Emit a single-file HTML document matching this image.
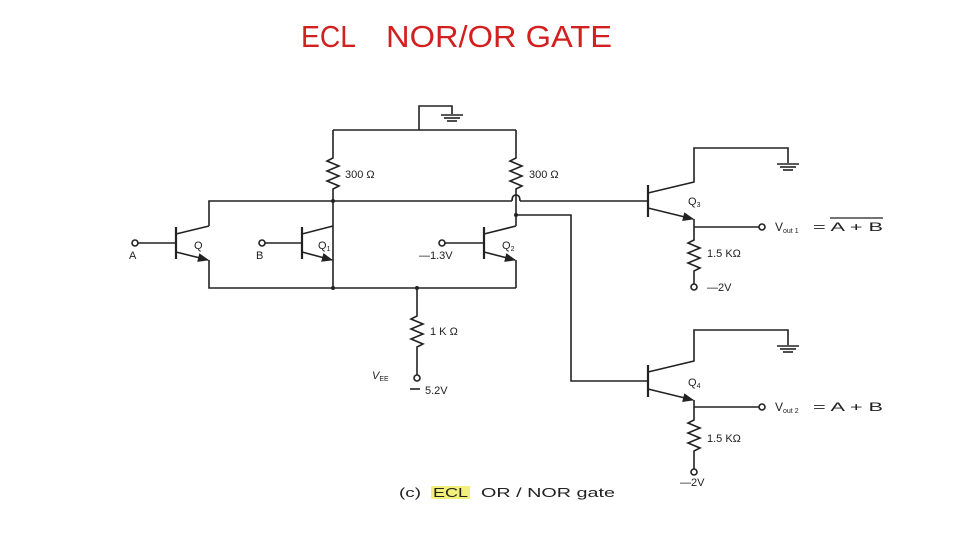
<!DOCTYPE html>
<html><head><meta charset="utf-8"><style>
html,body{margin:0;padding:0;background:#fff;}
svg{display:block}
</style></head><body>
<svg width="960" height="540" viewBox="0 0 960 540" xmlns="http://www.w3.org/2000/svg">
<defs>
<marker id="ar" viewBox="0 0 10 10" refX="9" refY="5" markerWidth="7" markerHeight="7" orient="auto"><path d="M0,1 L10,5 L0,9 z" fill="#222"/></marker>
</defs>
<text x="301" y="47" font-family="Liberation Sans, sans-serif" font-size="31" fill="#d21f1f" textLength="55" lengthAdjust="spacingAndGlyphs">ECL</text>
<text x="386" y="47" font-family="Liberation Sans, sans-serif" font-size="31" fill="#d21f1f" textLength="226" lengthAdjust="spacingAndGlyphs">NOR/OR GATE</text>
<g stroke="#222" stroke-width="1.6" fill="none">
<polyline points="419,130 419,106 452,106 452,114"/>
<line x1="441" y1="115" x2="463" y2="115"/><line x1="444" y1="118" x2="460" y2="118"/><line x1="447" y1="121" x2="457" y2="121"/>
<line x1="333" y1="130" x2="516" y2="130"/>
<polyline points="333,130 333,158 327,161 339,166 327,171 339,176 327,181 339,186 333,189 333,288"/>
<polyline points="516,130 516,158 510,161 522,166 510,171 522,176 510,181 522,186 516,189 516,226"/>
<polyline points="209,226 209,201 512,201"/>
<path d="M512,201 Q512,195 516,195 Q520,195 520,201"/>
<line x1="520" y1="201" x2="648" y2="201"/>
<line x1="176" y1="227" x2="176" y2="259" stroke-width="2.2"/>
<line x1="137" y1="243" x2="176" y2="243"/>
<line x1="176" y1="234" x2="209" y2="226"/>
<line x1="176" y1="252" x2="208" y2="260" marker-end="url(#ar)"/>
<polyline points="209,260 209,288 516,288"/>
<line x1="302" y1="227" x2="302" y2="259" stroke-width="2.2"/>
<line x1="265" y1="243" x2="302" y2="243"/>
<line x1="302" y1="234" x2="333" y2="226"/>
<line x1="302" y1="252" x2="332" y2="260" marker-end="url(#ar)"/>
<line x1="484" y1="227" x2="484" y2="259" stroke-width="2.2"/>
<line x1="445" y1="243" x2="484" y2="243"/>
<line x1="484" y1="234" x2="516" y2="226"/>
<line x1="484" y1="252" x2="515" y2="260" marker-end="url(#ar)"/>
<line x1="516" y1="260" x2="516" y2="288"/>
<polyline points="516,215 571,215 571,381 648,381"/>
<polyline points="417,288 417,316 411,319 423,324 411,329 423,334 411,339 423,344 417,347 417,375"/>
<circle cx="417" cy="378" r="3" fill="#fff"/>
<line x1="410" y1="389" x2="420" y2="389"/>
<line x1="648" y1="185" x2="648" y2="217" stroke-width="2.2"/>
<polyline points="648,193 694,182 694,148 788,148 788,163"/>
<line x1="777" y1="164" x2="799" y2="164"/><line x1="780" y1="167" x2="796" y2="167"/><line x1="783" y1="170" x2="793" y2="170"/>
<line x1="648" y1="208" x2="693" y2="219" marker-end="url(#ar)"/>
<polyline points="694,219 694,240 688,243 700,248 688,253 700,258 688,263 700,268 694,271 694,284"/>
<circle cx="694" cy="287" r="3" fill="#fff"/>
<line x1="694" y1="227" x2="759" y2="227"/>
<circle cx="762" cy="227" r="3" fill="#fff"/>
<line x1="648" y1="365" x2="648" y2="397" stroke-width="2.2"/>
<polyline points="648,372 694,361 694,330 788,330 788,345"/>
<line x1="777" y1="346" x2="799" y2="346"/><line x1="780" y1="349" x2="796" y2="349"/><line x1="783" y1="352" x2="793" y2="352"/>
<line x1="648" y1="389" x2="693" y2="400" marker-end="url(#ar)"/>
<polyline points="694,400 694,420 688,423 700,428 688,433 700,438 688,443 700,448 694,451 694,469"/>
<circle cx="694" cy="472" r="3" fill="#fff"/>
<line x1="694" y1="407" x2="759" y2="407"/>
<circle cx="762" cy="407" r="3" fill="#fff"/>
<line x1="830" y1="218" x2="883" y2="218" stroke-width="1.2"/>
</g>
<g fill="#222">
<circle cx="333" cy="201" r="2"/><circle cx="333" cy="288" r="2"/><circle cx="516" cy="215" r="2"/><circle cx="417" cy="288" r="2"/>
<circle cx="135" cy="243" r="3" fill="#fff" stroke="#222" stroke-width="1.6"/>
<circle cx="262" cy="243" r="3" fill="#fff" stroke="#222" stroke-width="1.6"/>
<circle cx="442" cy="243" r="3" fill="#fff" stroke="#222" stroke-width="1.6"/>
</g>
<g font-family="Liberation Sans, sans-serif" font-size="11" fill="#222">
<text x="345" y="178">300 Ω</text>
<text x="529" y="178">300 Ω</text>
<text x="129" y="259">A</text>
<text x="194" y="249">Q</text>
<text x="256" y="259">B</text>
<text x="318" y="249">Q<tspan font-size="7" dy="2">1</tspan></text>
<text x="419" y="259">—1.3V</text>
<text x="502" y="249">Q<tspan font-size="7" dy="2">2</tspan></text>
<text x="430" y="335">1 K Ω</text>
<text x="372" y="379" font-style="italic">V<tspan font-size="7" dy="2" font-style="normal">EE</tspan></text>
<text x="425" y="394">5.2V</text>
<text x="688" y="205">Q<tspan font-size="7" dy="2">3</tspan></text>
<text x="707" y="257">1.5 KΩ</text>
<text x="707" y="291">—2V</text>
<text x="775" y="231" font-size="12">V<tspan font-size="7" dy="2">out 1</tspan></text>
<text x="813" y="231" font-size="12" textLength="70" lengthAdjust="spacingAndGlyphs">= A + B</text>
<text x="688" y="386">Q<tspan font-size="7" dy="2">4</tspan></text>
<text x="707" y="442">1.5 KΩ</text>
<text x="680" y="486">—2V</text>
<text x="775" y="411" font-size="12">V<tspan font-size="7" dy="2">out 2</tspan></text>
<text x="813" y="411" font-size="12" textLength="70" lengthAdjust="spacingAndGlyphs">= A + B</text>
<rect x="431" y="486" width="39" height="13" fill="#f2f07a"/>
<text x="399" y="497" font-size="13" textLength="22" lengthAdjust="spacingAndGlyphs">(c)</text>
<text x="433" y="497" font-size="13" textLength="35" lengthAdjust="spacingAndGlyphs">ECL</text>
<text x="481" y="497" font-size="13" textLength="134" lengthAdjust="spacingAndGlyphs">OR / NOR gate</text>
</g>
</svg>
</body></html>
